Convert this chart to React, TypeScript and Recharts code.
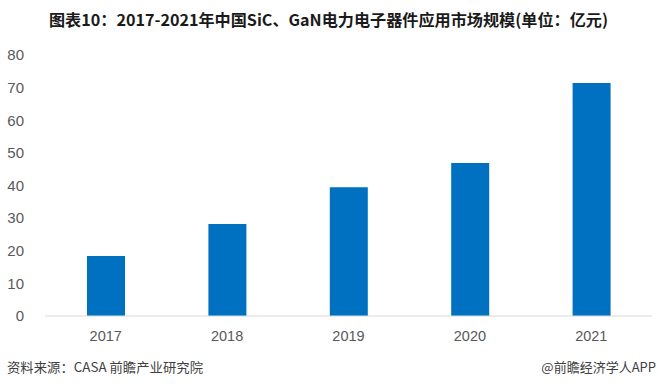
import React from 'react';
import { BarChart, Bar, XAxis, YAxis } from 'recharts';

const years = ['2017', '2018', '2019', '2020', '2021'];
const marketSize = [18.4, 28.2, 39.5, 46.9, 71.4];
const yTicks = [0, 10, 20, 30, 40, 50, 60, 70, 80];

const data = years.map((y, i) => ({ year: y, value: marketSize[i] }));

const xTickStyle = { fill: '#595959', fontSize: 14.5, fontFamily: '"Liberation Sans", Arial, sans-serif' };
const yTickStyle = { fill: '#595959', fontSize: 15, fontFamily: '"Liberation Sans", Arial, sans-serif' };

export default function App() {
  return (
    <div style={{ position: 'absolute', left: 0, top: 0, width: 658, height: 388, background: '#fff' }}>
      <BarChart
        width={658}
        height={388}
        data={data}
        margin={{ top: 55, right: 6, bottom: 42, left: 0 }}
      >
        <XAxis
          dataKey="year"
          tick={xTickStyle}
          tickLine={false}
          axisLine={{ stroke: '#d9d9d9', strokeWidth: 1 }}
          tickMargin={9}
          height={30}
        />
        <YAxis
          domain={[0, 80]}
          ticks={yTicks}
          tick={yTickStyle}
          tickLine={false}
          axisLine={false}
          tickMargin={15}
          width={45}
          interval={0}
        />
        <Bar dataKey="value" fill="#0070C0" barSize={38} isAnimationActive={false} />
      </BarChart>
      <svg
        width={658}
        height={388}
        style={{ position: 'absolute', left: 0, top: 0, pointerEvents: 'none' }}
      >
        <text
          x={49}
          y={26}
          fontSize={16}
          fontWeight="bold"
          fill="#1a1a1a"
          fontFamily='"Noto Sans CJK SC", sans-serif'
          textLength={559}
          lengthAdjust="spacingAndGlyphs"
        >
          图表10：2017-2021年中国SiC、GaN电力电子器件应用市场规模(单位：亿元)
        </text>
        <text
          x={7}
          y={372}
          fontSize={13}
          fill="#404040"
          fontFamily='"Noto Sans CJK SC", sans-serif'
          textLength={196}
          lengthAdjust="spacingAndGlyphs"
        >
          资料来源：CASA 前瞻产业研究院
        </text>
        <text
          x={656}
          y={372}
          fontSize={13}
          fill="#404040"
          textAnchor="end"
          fontFamily='"Noto Sans CJK SC", sans-serif'
        >
          @前瞻经济学人APP
        </text>
      </svg>
    </div>
  );
}
